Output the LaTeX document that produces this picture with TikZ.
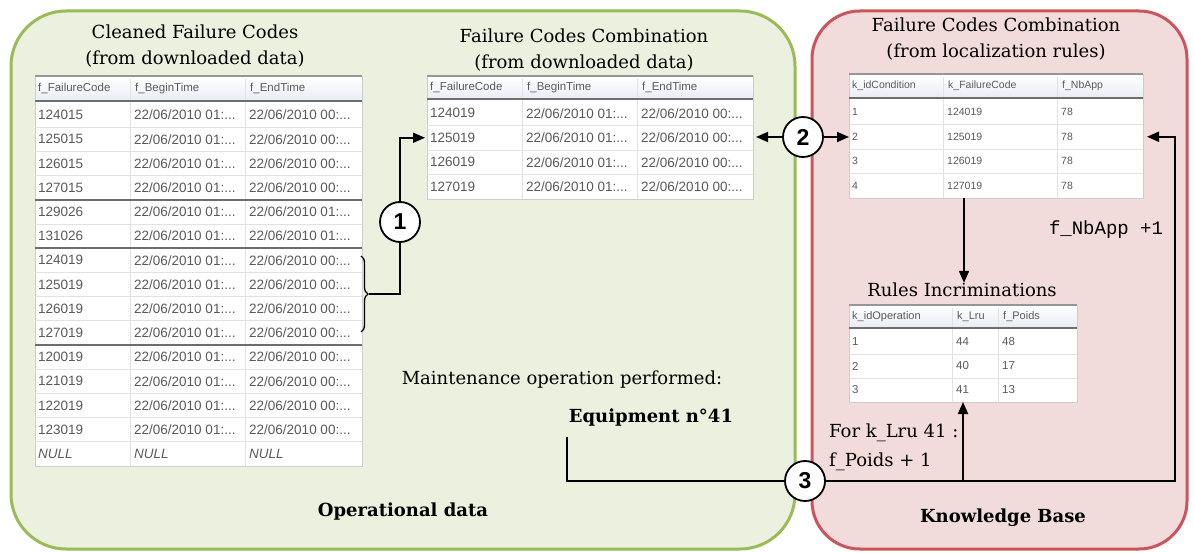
\documentclass[tikz,border=0pt]{standalone}
\usepackage{fontspec}
\setmainfont{DejaVu Serif}
\newfontfamily\cellfont{Liberation Sans}
\newfontfamily\monofont{Liberation Mono}
\usetikzlibrary{arrows.meta,decorations.pathreplacing,calc}
\definecolor{gfill}{RGB}{235,241,222}
\definecolor{gline}{RGB}{155,187,89}
\definecolor{rfill}{RGB}{242,220,219}
\definecolor{rline}{RGB}{204,84,92}
\definecolor{celltext}{RGB}{90,90,90}
\definecolor{gridc}{RGB}{226,226,226}
\definecolor{hdrtop}{RGB}{150,150,150}
\definecolor{hdrbot}{RGB}{110,110,110}
\definecolor{hdrfill}{RGB}{232,237,244}
\definecolor{tabframe}{RGB}{205,205,205}
\newcommand\tA{22/06/2010 01:...}
\newcommand\tB{22/06/2010 00:...}
\newcommand\nul{\textit{NULL}}
\newcommand\tgeom[9]{\def\TX{#1}\def\TA{#2}\def\TB{#3}\def\TY{#4}\def\TT{#5}\def\TH{#6}\def\TP{#7}\def\TN{#8}\def\TF{#9}}
\newcommand\drawtable[5]{%
  \pgfmathsetmacro\TBot{\TH+2+\TN*\TP}%
  \pgfmathsetmacro\TW{\TY-\TX}%
  \pgfmathsetmacro\THt{\TBot-\TT}%
  \node[tabbox, minimum width=\TW pt, minimum height=\THt pt] (#1) at ({(\TX+\TY)/2},{(\TT+\TBot)/2}) {};
  \shade[top color=white, bottom color=hdrfill] ({\TX},{\TT}) rectangle ({\TY},{\TH});
  \draw[gridc, line width=0.8pt] ({\TA},{\TT+3}) -- ({\TA},{\TBot}) ({\TB},{\TT+3}) -- ({\TB},{\TBot});
  \draw[tabframe, line width=0.8pt] (#1.north west) rectangle (#1.south east);
  \draw[hdrtop, line width=1.5pt] ({\TX},{\TT}) -- ({\TY},{\TT});
  \draw[hdrbot, line width=2.5pt] ({\TX},{\TH}) -- ({\TY},{\TH});
  \node[hdrtxt] (#1-h1) at ({\TX+3},{(\TT+\TH)/2}) {#2};
  \node[hdrtxt] (#1-h2) at ({\TA+5},{(\TT+\TH)/2}) {#3};
  \node[hdrtxt] (#1-h3) at ({\TB+5},{(\TT+\TH)/2}) {#4};
  \foreach \a/\b/\c [count=\i] in {#5} {
    \pgfmathsetmacro\yc{\TH+2+(\i-0.5)*\TP}
    \pgfmathsetmacro\yl{\TH+2+\i*\TP}
    \node[celltxt] (#1-\i-1) at ({\TX+3},{\yc}) {\a};
    \node[celltxt] (#1-\i-2) at ({\TA+4},{\yc}) {\b};
    \node[celltxt] (#1-\i-3) at ({\TB+4},{\yc}) {\c};
    \coordinate (#1-r\i) at ({\TX},{\yc});
    \coordinate (#1-e\i) at ({\TY},{\yc});
    \ifnum\i<\TN \draw[gridc, line width=0.8pt] ({\TX},{\yl}) -- ({\TY},{\yl}); \fi
  }
}
\tikzset{
  tabbox/.style={fill=white, draw=none, inner sep=0pt, outer sep=0pt},
  hdrtxt/.style={anchor=west, inner sep=0pt, text=celltext, font=\cellfont\fontsize{\THF}{\THF}\selectfont},
  celltxt/.style={anchor=west, inner sep=0pt, text=celltext, font=\cellfont\fontsize{\TF}{\TF}\selectfont},
  title/.style={align=center, inner sep=0pt, font=\fontsize{18}{26}\selectfont},
  lbl/.style={inner sep=0pt, font=\fontsize{18}{26}\selectfont},
  blbl/.style={inner sep=0pt, font=\bfseries\fontsize{18}{26}\selectfont},
  num/.style={circle, draw=black, fill=white, line width=1.8pt, minimum size=40pt, inner sep=0pt, font=\cellfont\bfseries\fontsize{23}{23}\selectfont},
  conn/.style={draw=black, line width=1.8pt},
  arr/.style={conn, -{Triangle[length=12pt,width=10pt]}},
  sep/.style={draw=hdrbot, line width=1.6pt}
}
\begin{document}
\begin{tikzpicture}[x=1pt,y=-1pt]
\useasboundingbox (0,0) rectangle (1194,553);
\fill[white] (0,0) rectangle (1194,553);
% panels
\draw[gline, line width=3pt, fill=gfill, rounded corners=55pt] (11,11) rectangle (795,549);
\draw[rline, line width=3pt, fill=rfill, rounded corners=48pt] (812,11) rectangle (1187,549);
% titles
\node[title] (tLt) at (195,46) {Cleaned Failure Codes\\(from downloaded data)};
\node[title] (tMt) at (584,50) {Failure Codes Combination\\(from downloaded data)};
\node[title] (tRt) at (996,39) {Failure Codes Combination\\(from localization rules)};
\node[lbl] (tIt) at (962,290) {Rules Incriminations};
% left table
\tgeom{35}{130}{245}{362}{76}{101}{24.2}{15}{13.5}\def\THF{11.5}
\drawtable{L}{f\_FailureCode}{f\_BeginTime}{f\_EndTime}{124015/\tA/\tB,125015/\tA/\tB,126015/\tA/\tB,127015/\tA/\tB,129026/\tA/\tA,131026/\tA/\tA,124019/\tA/\tB,125019/\tA/\tB,126019/\tA/\tB,127019/\tA/\tB,120019/\tA/\tB,121019/\tA/\tB,122019/\tA/\tB,123019/\tA/\tB,\nul/\nul/\nul}
\draw[sep] ($(L-r4)!.5!(L-r5)$) -- ($(L-e4)!.5!(L-e5)$);
\draw[sep] ($(L-r6)!.5!(L-r7)$) -- ($(L-e6)!.5!(L-e7)$);
\draw[sep] ($(L-r10)!.5!(L-r11)$) -- ($(L-e10)!.5!(L-e11)$);
% middle table
\tgeom{427}{522}{637}{753}{76}{99}{24.5}{4}{13.5}\def\THF{11.5}
\drawtable{M}{f\_FailureCode}{f\_BeginTime}{f\_EndTime}{124019/\tA/\tB,125019/\tA/\tB,126019/\tA/\tB,127019/\tA/\tB}
% right top table
\tgeom{849}{943}{1057}{1143}{74}{98}{24.5}{4}{10.5}\def\THF{10.5}
\drawtable{R}{k\_idCondition}{k\_FailureCode}{f\_NbApp}{1/124019/78,2/125019/78,3/126019/78,4/127019/78}
% rules table
\tgeom{849}{952}{998}{1077}{305}{328}{24}{3}{11.5}\def\THF{11}
\drawtable{I}{k\_idOperation}{k\_Lru}{f\_Poids}{1/44/48,2/40/17,3/41/13}
% labels
\node[lbl] (maint) at (562,380) {Maintenance operation performed:};
\node[blbl] (eq) at (651,418) {Equipment n°41};
\node[blbl] (opd) at (403,512) {Operational data};
\node[blbl] (kb) at (1003,518) {Knowledge Base};
\node[inner sep=0pt, font=\monofont\fontsize{19}{19}\selectfont] (nb) at (1106,230) {f\_NbApp +1};
\node[anchor=west, align=left, inner sep=0pt, font=\fontsize{18}{29}\selectfont] (forlru) at (829,447.5) {For k\_Lru 41 :\\f\_Poids + 1};
% brace and circles
\draw[decorate, decoration={brace, amplitude=7pt}, line width=1.3pt] (361,256) -- (361,332);
\coordinate (bt) at (369,294);
\node[num] (c1) at (400,222) {1};
\node[num] (c2) at (803,137) {2};
\node[num] (c3) at (805,481) {3};
% connectors
\draw[conn] (bt) -| (c1.south);
\draw[arr] (c1.north) |- ([xshift=-2pt]M-r2);
\draw[arr, shorten >=3pt] (c2) -- (c2 -| M-e2);
\draw[arr] (c2) -- (c2 -| R-r2);
\draw[arr] ([xshift=-32pt]R.south) -- ([xshift=-32pt]R.south |- tIt.north);
\draw[conn] (c3.west) -| ([shift={(-2pt,-10pt)}]eq.south west);
\coordinate (rc) at ($(R-e2)+(32,0)$);
\draw[arr] (c3.east) -| (rc) -- ([xshift=4pt]R-e2);
\draw[arr] (I.south |- c3) -- (I.south);
\end{tikzpicture}
\end{document}
